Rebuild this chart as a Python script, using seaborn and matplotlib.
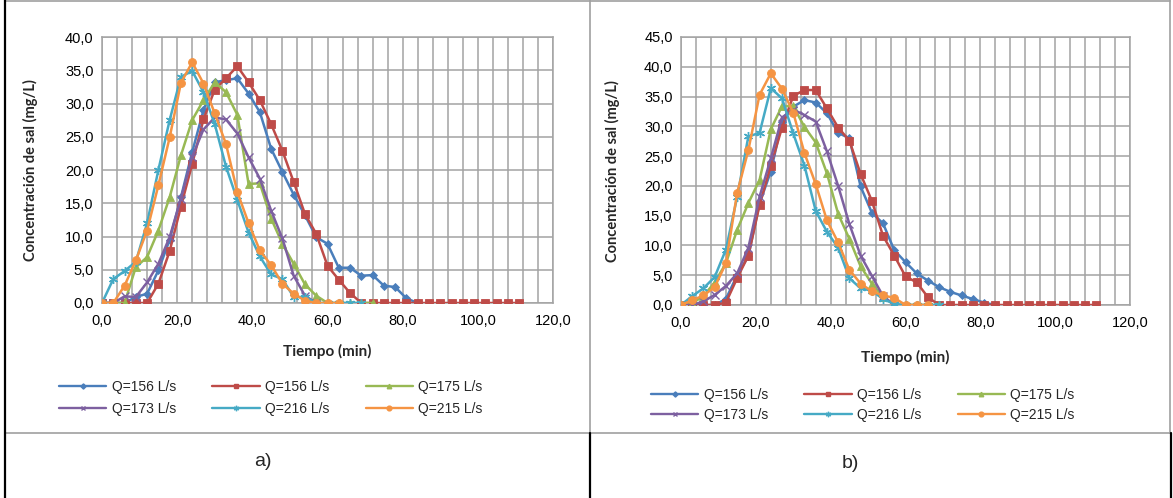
import numpy as np
import pandas as pd
import matplotlib
matplotlib.use("Agg")
import matplotlib.pyplot as plt
from matplotlib.lines import Line2D
from matplotlib.ticker import MultipleLocator, FuncFormatter
import seaborn as sns

# ---------------- data ----------------
time_step = 3.0  # minutes between samples
labels = ["Q=156 L/s", "Q=156 L/s", "Q=175 L/s", "Q=173 L/s", "Q=216 L/s", "Q=215 L/s"]

# chart a)
blue_a = [0, 0, 0, 0.9, 1.4, 4.9, 9.5, 15.9, 22.7, 29.0, 33.2, 33.5, 33.8, 31.5, 28.7, 23.2,
          19.7, 16.3, 13.2, 9.9, 8.9, 5.3, 5.3, 4.1, 4.2, 2.6, 2.4, 0.7, 0]
red_a = [0, 0, 0, 0, 0, 2.9, 7.8, 14.5, 20.9, 27.6, 32.1, 33.8, 35.6, 33.2, 30.5, 26.9,
         22.9, 18.2, 13.4, 10.4, 5.6, 3.5, 1.5, 0] + [0] * 14
green_a = [0, 0, 0, 5.4, 6.9, 10.9, 15.9, 22.2, 27.5, 30.5, 33.2, 31.7, 28.3, 17.9, 18.0, 12.7,
           8.9, 5.9, 2.8, 1.1, 0, 0, 0, 0, 0]
purple_a = [0, 0, 1.0, 0.9, 3.1, 5.9, 9.9, 15.7, 22.0, 26.1, 27.9, 27.6, 25.5, 21.9, 18.7, 13.9,
            9.7, 4.1, 1.1, 0]
cyan_a = [0, 3.6, 4.8, 6.2, 12.0, 20.0, 27.5, 34.0, 34.9, 31.7, 26.9, 20.5, 15.5, 10.6, 7.0, 4.3,
          3.6, 0.9, 0.9, 0, 0, 0, 0, 0]
orange_a = [0, 0, 2.6, 6.4, 10.9, 17.7, 24.9, 33.1, 36.2, 33.0, 28.5, 23.9, 16.7, 12.0, 7.9, 5.7,
            2.9, 1.4, 0.35, 0, 0, 0]

# chart b)
blue_b = [0, 0, 0, 0, 1.0, 5.0, 8.2, 17.1, 22.4, 30.8, 33.3, 34.4, 34.0, 32.2, 28.9, 28.0,
          19.9, 15.5, 13.7, 9.2, 7.2, 5.3, 4.1, 3.0, 2.2, 1.6, 1.0, 0.4, 0]
red_b = [0, 0, 0, 0, 0.4, 4.5, 8.3, 16.8, 23.4, 29.8, 35.1, 36.1, 36.1, 33.0, 29.8, 27.6,
         22.0, 17.5, 11.6, 8.3, 4.8, 3.8, 1.3, 0] + [0] * 14
green_b = [0, 0.3, 1.5, 3.8, 7.0, 12.6, 17.1, 21.0, 29.5, 33.4, 33.4, 29.9, 27.3, 22.1, 15.3, 11.1,
           6.5, 3.6, 1.4, 0, 0, 0, 0, 0]
purple_b = [0, 0, 0.6, 1.7, 3.2, 5.3, 9.6, 18.2, 24.6, 31.5, 32.8, 31.9, 30.8, 25.8, 20.0, 13.6,
            8.3, 4.9, 1.5, 0]
cyan_b = [0, 1.5, 2.8, 4.7, 9.3, 18.1, 28.3, 28.9, 36.4, 34.7, 28.8, 23.4, 15.8, 12.3, 9.6, 4.5,
          2.8, 2.4, 1.0, 0.2, 0, 0, 0, 0]
orange_b = [0, 0.8, 1.6, 3.0, 7.0, 18.8, 26.0, 35.3, 38.9, 36.3, 32.3, 25.5, 20.3, 14.2, 10.5, 5.9,
            3.6, 2.3, 1.6, 1.2, 0, 0, 0]

# ---------------- style ----------------
colors = ["#4A7EBB", "#BE4B48", "#98B954", "#7D60A0", "#46AAC5", "#F59443"]
markers = ["D", "s", "^", "x", (6, 2, 0), "o"]
msizes = [4.4, 5.4, 5.4, 5.5, 6.5, 5.7]

sns.set_theme(style="white")
plt.rcParams["font.family"] = ["Liberation Sans", "DejaVu Sans"]

W, H = 1173, 498
fig = plt.figure(figsize=(W / 100, H / 100), dpi=100)


def fx(px):
    return px / W


def fy(py):
    return 1 - py / H


def comma(v, pos):
    return f"{v:.1f}".replace(".", ",")


def draw(ax, series, ymax, leg_center, leg_spacing, xlabel_y, ylabel_x):
    handles = []
    for vals, lab, c, m, ms in zip(series, labels, colors, markers, msizes):
        t = np.arange(len(vals)) * time_step
        df = pd.DataFrame({"t": t, "c": vals})
        sns.lineplot(data=df, x="t", y="c", ax=ax, color=c, marker=m, markersize=ms,
                     markeredgecolor=c, markeredgewidth=1.0 if m in ("x", (6, 2, 0)) else 0.6,
                     linewidth=1.8, label=lab, legend=False, zorder=3)
        handles.append(Line2D([0], [0], color=c, marker=m, markersize=ms * 0.6,
                              markeredgecolor=c, linewidth=1.7))
    ax.set_xlim(0, 120)
    ax.set_ylim(0, ymax)
    ax.xaxis.set_major_locator(MultipleLocator(20))
    ax.xaxis.set_minor_locator(MultipleLocator(4))
    ax.yaxis.set_major_locator(MultipleLocator(5))
    ax.xaxis.set_major_formatter(FuncFormatter(comma))
    ax.yaxis.set_major_formatter(FuncFormatter(comma))
    ax.grid(True, which="both", axis="x", color="#a3a3a3", linewidth=1.1)
    ax.grid(True, which="major", axis="y", color="#a3a3a3", linewidth=1.1)
    ax.set_axisbelow(True)
    for s in ax.spines.values():
        s.set_color("#a3a3a3")
        s.set_linewidth(1.1)
    ax.tick_params(axis="both", which="both", length=0, labelsize=10.5, colors="black")
    ax.tick_params(axis="x", pad=8)
    ax.tick_params(axis="y", pad=6)
    ax.set_xlabel("")
    ax.set_ylabel("")
    # axis titles
    cx = (ax.get_position().x0 + ax.get_position().x1) / 2
    fig.text(cx, fy(xlabel_y), "Tiempo (min)", ha="center", va="center",
             fontsize=11, fontweight="bold", family=["Lato", "DejaVu Sans"])
    cy = (ax.get_position().y0 + ax.get_position().y1) / 2
    fig.text(fx(ylabel_x), cy, "Concentración de sal (mg/L)", ha="center", va="center",
             rotation=90, fontsize=10.5, fontweight="bold", family=["Lato", "DejaVu Sans"])
    order = [0, 3, 1, 4, 2, 5]
    fig.legend([handles[i] for i in order], [labels[i] for i in order], ncol=3,
               loc="center", bbox_to_anchor=(fx(leg_center[0]), fy(leg_center[1])),
               frameon=False, fontsize=10, handlelength=3.4, handletextpad=0.4,
               columnspacing=2.6, labelspacing=leg_spacing, borderpad=0)


ax1 = fig.add_axes([fx(102), fy(303), fx(553 - 102), (303 - 37) / H])
draw(ax1, [blue_a, red_a, green_a, purple_a, cyan_a, orange_a], 40,
     (271, 398), 0.62, 351, 30)

ax2 = fig.add_axes([fx(681), fy(305), fx(1130 - 681), (305 - 37) / H])
draw(ax2, [blue_b, red_b, green_b, purple_b, cyan_b, orange_b], 45,
     (863, 405), 0.42, 357, 612)

# table / chart frames
grey = "#a0a0a0"


def hline(y, x0, x1, c, lw):
    fig.add_artist(Line2D([fx(x0), fx(x1)], [fy(y), fy(y)], color=c, linewidth=lw))


def vline(x, y0, y1, c, lw):
    fig.add_artist(Line2D([fx(x), fx(x)], [fy(y0), fy(y1)], color=c, linewidth=lw))


hline(1, 5, 1170, grey, 1.2)
hline(432.5, 5, 1170, grey, 1.2)
vline(5, 0, 498, "black", 1.6)
vline(589.5, 0, 432.5, grey, 1.2)
vline(589.5, 432.5, 498, "black", 1.6)
vline(1170, 0, 432.5, grey, 1.2)
vline(1171, 432.5, 498, "black", 1.6)

fig.text(fx(263), fy(461), "a)", ha="center", va="center", fontsize=14)
fig.text(fx(850), fy(463), "b)", ha="center", va="center", fontsize=14)

fig.savefig("out.png", dpi=100)
